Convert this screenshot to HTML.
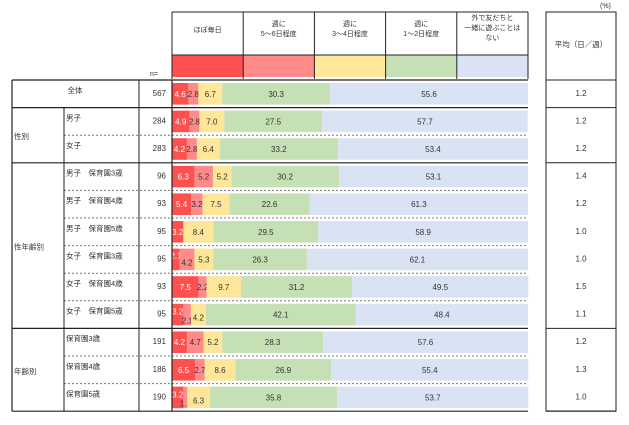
<!DOCTYPE html>
<html><head><meta charset="utf-8"><style>
body{margin:0;background:#fff;}
svg{display:block;font-family:"Liberation Sans","Noto Sans CJK JP",sans-serif;}
</style></head><body>
<svg id="c" width="629" height="425"></svg>
<script>
const categories=["全体","男子","女子","男子　保育園3歳","男子　保育園4歳","男子　保育園5歳","女子　保育園3歳","女子　保育園4歳","女子　保育園5歳","保育園3歳","保育園4歳","保育園5歳"];
const nValues=[567,284,283,96,93,95,95,93,95,191,186,190];
const seriesNames=["ほぼ毎日","週に\n5～6日程度","週に\n3～4日程度","週に\n1～2日程度","外で友だちと\n一緒に遊ぶことは\nない"];
const s1=[4.6,4.9,4.2,6.3,5.4,3.2,2.1,7.5,3.2,4.2,6.5,3.2];
const s2=[2.8,2.8,2.8,5.2,3.2,0.0,4.2,2.2,2.1,4.7,2.7,1.1];
const s3=[6.7,7.0,6.4,5.2,7.5,8.4,5.3,9.7,4.2,5.2,8.6,6.3];
const s4=[30.3,27.5,33.2,30.2,22.6,29.5,26.3,31.2,42.1,28.3,26.9,35.8];
const s5=[55.6,57.7,53.4,53.1,61.3,58.9,62.1,49.5,48.4,57.6,55.4,53.7];
const avgValues=["1.2","1.2","1.2","1.4","1.2","1.0","1.0","1.5","1.1","1.2","1.3","1.0"];
const groups=[["",0,1],["性別",1,3],["性年齢別",3,9],["年齢別",9,12]];

const svg=document.getElementById('c');const NS="http://www.w3.org/2000/svg";
function el(t,a,p){const e=document.createElementNS(NS,t);for(const k in a)e.setAttribute(k,a[k]);(p||svg).appendChild(e);return e;}
function txt(x,y,s,a){const e=el('text',Object.assign({x:x,y:y,'font-size':8,fill:'#333'},a||{}));e.textContent=s;return e;}
const colors=["#ff5050","#ff8a8a","#ffe699","#c5e0b4","#dae3f3"];
const X0=172,X1=528,top0=80,pitch=27.6;
const xs=v=>X0+v/100*(X1-X0);
const rowY=i=>top0+i*pitch;
for(let j=0;j<5;j++){
 const x=X0+j*(X1-X0)/5,w=(X1-X0)/5;
 const sw=el('rect',{x:x,y:55,width:w,height:22,fill:colors[j]});
 
 
 const lines=seriesNames[j].split('\n');
 lines.forEach((l,k)=>{const t=txt(x+w/2,(lines.length==1?32:lines.length==2?26:20)+k*10,l,{'text-anchor':'middle','font-size':7});
  });
 el('line',{x1:x,y1:12,x2:x,y2:79,stroke:'#222','stroke-width':1});
}
el('line',{x1:X1,y1:12,x2:X1,y2:79,stroke:'#222'});
el('line',{x1:X0,y1:12,x2:X1,y2:12,stroke:'#222'});
el('line',{x1:X0,y1:55,x2:X1,y2:55,stroke:'#222'});
txt(600,8,'(%)',{'font-size':7});
txt(150,76,'n=',{'font-size':7});
el('rect',{x:546,y:12,width:70,height:399,fill:'none',stroke:'#222'});
txt(581,47,'平均（日／週）',{'text-anchor':'middle','font-size':7.5});
for(let i=0;i<categories.length;i++){
 const y=rowY(i),cy=y+pitch/2;
 let acc=0;const vals=[s1[i],s2[i],s3[i],s4[i],s5[i]];
 vals.forEach((v,j)=>{
  const r=el('rect',{x:xs(acc),y:y+3,width:Math.max(0,xs(acc+v)-xs(acc)),height:pitch-6,fill:colors[j]});
  
  
  if(v>0){let ty=cy+3,tx=(xs(acc)+xs(acc+v))/2;
   const small=v<2.15, nextSmall=j<4&&vals[j+1]>0&&vals[j+1]<2.15, prevSmall=j>0&&vals[j-1]<2.15&&vals[j-1]>0;
   if(small&&j==0){ty=cy-1;tx=xs(acc)+4;}
   else if(small){ty=cy+9;}
   else if(nextSmall){ty=cy;}
   else if(prevSmall){ty=cy+6;}
   const t=txt(tx,ty,v.toFixed(1),{'text-anchor':'middle',fill:j==0?'#fff':'#333'});
   }
  acc+=v;});
 const c=txt(i==0?75:66,cy-1,categories[i],{'text-anchor':i==0?'middle':'start','font-size':7.5});
 
 const n=txt(166,cy+2,nValues[i],{'text-anchor':'end'});
 
 const a=txt(581,cy+2,avgValues[i],{'text-anchor':'middle'});
 
}
el('line',{x1:12,y1:top0,x2:X1,y2:top0,stroke:'#222','stroke-width':1.2});
el('line',{x1:546,y1:top0,x2:616,y2:top0,stroke:'#222'});
groups.forEach((g,gi)=>{
 const ya=rowY(g[1]),yb=rowY(g[2]);
 el('line',{x1:12,y1:yb,x2:X1,y2:yb,stroke:'#222','stroke-width':1.2});
 el('line',{x1:546,y1:yb,x2:616,y2:yb,stroke:'#222'});
 for(let k=g[1]+1;k<g[2];k++){el('line',{x1:64,y1:rowY(k),x2:X1,y2:rowY(k),stroke:'#777','stroke-dasharray':'2,2'});}
 if(g[0]){const t=txt(14,(ya+yb)/2+4,g[0],{'font-size':7.5});
  el('line',{x1:64,y1:ya,x2:64,y2:yb,stroke:'#222'});}
});
el('line',{x1:12,y1:top0,x2:12,y2:rowY(12),stroke:'#222','stroke-width':1.2});
el('line',{x1:139,y1:top0,x2:139,y2:rowY(12),stroke:'#222'});
el('line',{x1:X0,y1:top0,x2:X0,y2:rowY(12),stroke:'#222','stroke-width':1.2});
</script>
</body></html>
